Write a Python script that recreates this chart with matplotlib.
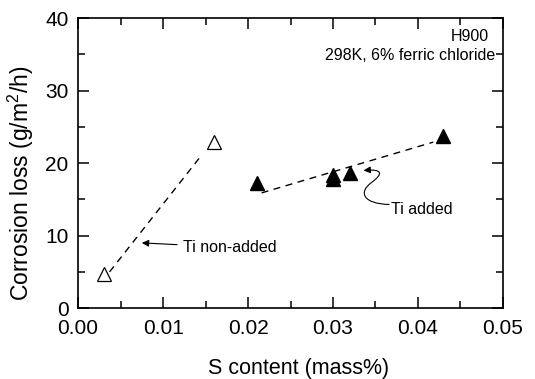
import matplotlib
matplotlib.use("Agg")
import matplotlib.pyplot as plt
from matplotlib.ticker import MultipleLocator
from matplotlib.patches import FancyArrowPatch
from matplotlib.path import Path

plt.rcParams['font.family'] = ['Liberation Sans', 'DejaVu Sans']
plt.rcParams['mathtext.fontset'] = 'custom'
plt.rcParams['mathtext.rm'] = 'Liberation Sans'
plt.rcParams['mathtext.it'] = 'Liberation Sans'

# Ti non-added (open triangles)
s_non = [0.003, 0.016]
loss_non = [4.7, 22.9]
fit_non_x = [0.0037, 0.0146]
fit_non_y = [5.0, 21.2]

# Ti added (filled triangles)
s_add = [0.021, 0.030, 0.030, 0.032, 0.043]
loss_add = [17.2, 18.3, 17.8, 18.6, 23.8]
fit_add_x = [0.0216, 0.0418]
fit_add_y = [15.9, 22.9]

# curved leader for "Ti added" label (bezier nodes)
lead_x = [0.0366, 0.0335, 0.0330, 0.0345, 0.0360, 0.0358, 0.0336]
lead_y = [14.3, 14.4, 16.0, 17.3, 18.6, 19.2, 19.0]

fig = plt.figure(figsize=(5.35, 3.79), dpi=100)
ax = fig.add_axes([0.146, 0.187, 0.794, 0.765])

ax.plot(fit_non_x, fit_non_y, 'k--', lw=1.0, dashes=(5, 4))
ax.plot(fit_add_x, fit_add_y, 'k--', lw=1.0, dashes=(5, 4))
ax.plot(s_non, loss_non, '^', ms=10, mfc='white', mec='black', mew=0.9)
ax.plot(s_add, loss_add, '^', ms=10.5, mfc='black', mec='black')

ax.set_xlim(0, 0.05)
ax.set_ylim(0, 40)
ax.xaxis.set_major_locator(MultipleLocator(0.01))
ax.xaxis.set_minor_locator(MultipleLocator(0.005))
ax.yaxis.set_major_locator(MultipleLocator(10))
ax.yaxis.set_minor_locator(MultipleLocator(5))
ax.xaxis.set_major_formatter(plt.FormatStrFormatter('%.2f'))
ax.tick_params(which='both', direction='in', top=True, right=True, width=1.1, labelsize=15)
ax.tick_params(which='major', length=8)
ax.tick_params(which='minor', length=5)
ax.tick_params(axis='x', pad=8)
ax.tick_params(axis='y', pad=7)
for sp in ax.spines.values():
    sp.set_linewidth(1.2)

ax.set_xlabel('S content (mass%)', fontsize=15.5)
ax.set_ylabel('Corrosion loss (g/m$^2$/h)', fontsize=16.5)
ax.xaxis.set_label_coords(0.518, -0.172)
ax.yaxis.set_label_coords(-0.1, 0.43)

ax.text(0.0483, 37.5, 'H900', ha='right', va='center', fontsize=11.5)
ax.text(0.0491, 34.8, '298K, 6% ferric chloride', ha='right', va='center', fontsize=11.5)

ax.annotate('Ti non-added', xy=(0.0075, 9.0), xytext=(0.0123, 8.4),
            ha='left', va='center', fontsize=11.5,
            arrowprops=dict(arrowstyle='-|>', color='black', lw=0.8,
                            shrinkA=2, shrinkB=0, mutation_scale=10))

ax.text(0.0368, 13.6, 'Ti added', ha='left', va='center', fontsize=11.5)
codes = [Path.MOVETO] + [Path.CURVE4] * 6
lead = Path(list(zip(lead_x, lead_y)), codes)
ax.add_patch(FancyArrowPatch(path=lead, arrowstyle='-|>', color='black',
                             lw=0.8, mutation_scale=10))

fig.savefig('out.png', dpi=100)
